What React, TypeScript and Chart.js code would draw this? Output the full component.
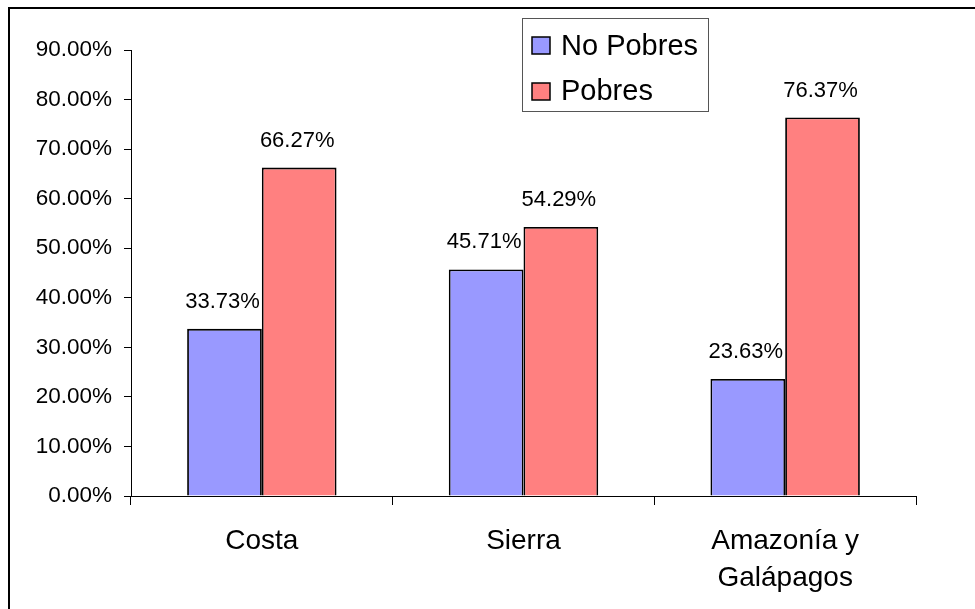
import React, { useEffect, useRef } from "react";
import { Chart, registerables } from "chart.js";

Chart.register(...registerables);

const categories: (string | string[])[] = ["Costa", "Sierra", ["Amazonía y", "Galápagos"]];
const noPobres: number[] = [33.73, 45.71, 23.63];
const pobres: number[] = [66.27, 54.29, 76.37];
const seriesNames: string[] = ["No Pobres", "Pobres"];
const yTicks = { min: 0, max: 90, step: 10 };

const FONT = "'Liberation Sans', Arial, sans-serif";

const valueLabels = {
  id: "valueLabels",
  afterDatasetsDraw(chart: any) {
    const ctx = chart.ctx;
    ctx.save();
    ctx.font = `22px ${FONT}`;
    ctx.fillStyle = "#000";
    ctx.textAlign = "center";
    ctx.textBaseline = "alphabetic";
    chart.data.datasets.forEach((ds: any, di: number) => {
      const meta = chart.getDatasetMeta(di);
      meta.data.forEach((bar: any, i: number) => {
        ctx.fillText(Number(ds.data[i]).toFixed(2) + "%", bar.x - 2, bar.y - 21);
      });
    });
    ctx.restore();
  },
};

const customLegend = {
  id: "customLegend",
  afterDraw(chart: any) {
    const ctx = chart.ctx;
    ctx.save();
    const bx = 512, by = 9.5, bw = 186, bh = 93;
    ctx.strokeStyle = "#555";
    ctx.lineWidth = 1;
    ctx.strokeRect(bx + 0.5, by, bw, bh);
    ctx.font = `29px ${FONT}`;
    ctx.textAlign = "left";
    ctx.textBaseline = "alphabetic";
    chart.data.datasets.forEach((ds: any, i: number) => {
      const sy = 28 + i * 46;
      ctx.fillStyle = ds.backgroundColor;
      ctx.fillRect(522, sy, 18, 17);
      ctx.strokeStyle = "#000";
      ctx.lineWidth = 1.5;
      ctx.strokeRect(522, sy, 18, 17);
      ctx.fillStyle = "#000";
      ctx.fillText(ds.label, 551, 46 + i * 45);
    });
    ctx.restore();
  },
};

export default function App() {
  const ref = useRef<HTMLCanvasElement | null>(null);
  useEffect(() => {
    if (!ref.current) return;
    const chart = new Chart(ref.current, {
      type: "bar",
      data: {
        labels: categories as any,
        datasets: [
          {
            label: seriesNames[0],
            data: noPobres,
            backgroundColor: "#9999FF",
            borderColor: "#000",
            borderWidth: 1.8,
            categoryPercentage: 0.571,
            barPercentage: 1,
          },
          {
            label: seriesNames[1],
            data: pobres,
            backgroundColor: "#FF8080",
            borderColor: "#000",
            borderWidth: 1.8,
            categoryPercentage: 0.571,
            barPercentage: 1,
          },
        ],
      },
      options: {
        responsive: false,
        animation: false,
        devicePixelRatio: 1,
        layout: { padding: { left: 0, right: 59, top: 41, bottom: 0 } },
        plugins: {
          legend: { display: false },
          tooltip: { enabled: false },
        },
        scales: {
          x: {
            grid: {
              display: true,
              drawOnChartArea: false,
              drawTicks: true,
              tickLength: 9,
              color: "#000",
              offset: true,
            },
            border: { display: true, color: "#000", width: 1 },
            ticks: {
              color: "#000",
              font: { family: FONT, size: 28, lineHeight: 1.32 },
              padding: 18,
              maxRotation: 0,
              autoSkip: false,
            },
            afterFit: (s: any) => {
              s.height = 113;
            },
          },
          y: {
            min: yTicks.min,
            max: yTicks.max,
            grid: {
              display: true,
              drawOnChartArea: false,
              drawTicks: true,
              tickLength: 7,
              color: "#000",
            },
            border: { display: true, color: "#000", width: 1 },
            ticks: {
              stepSize: yTicks.step,
              color: "#000",
              font: { family: FONT, size: 22.5 },
              padding: 12,
              callback: (v: any) => Number(v).toFixed(2) + "%",
            },
            afterFit: (s: any) => {
              s.width = 121;
            },
          },
        },
      },
      plugins: [valueLabels, customLegend],
    });
    return () => chart.destroy();
  }, []);

  return (
    <div
      style={{
        position: "absolute",
        left: 8,
        top: 7,
        width: 967,
        height: 602,
        borderLeft: "2px solid #000",
        borderTop: "2px solid #000",
        boxSizing: "border-box",
        overflow: "hidden",
        background: "#fff",
      }}
    >
      <canvas ref={ref} width={965} height={600} style={{ display: "block", width: 965, height: 600 }} />
    </div>
  );
}
